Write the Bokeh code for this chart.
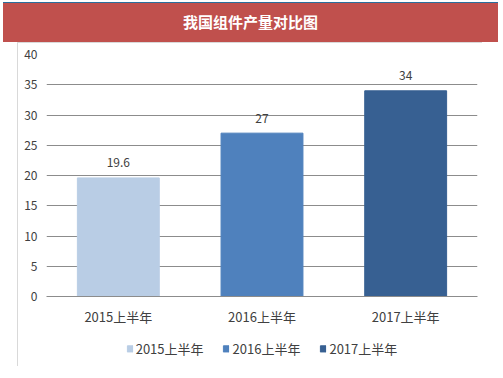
from bokeh.plotting import figure
from bokeh.models import ColumnDataSource, Div, Legend, LegendItem, FactorRange, Range1d
from bokeh.layouts import column
from bokeh.embed import file_html
from bokeh.resources import INLINE
from bokeh.core.properties import value

title_text = "我国组件产量对比图"
categories = ["2015上半年", "2016上半年", "2017上半年"]
values = [19.6, 27, 34]
value_labels = ["19.6", "27", "34"]
colors = ["#b9cde5", "#4f81bd", "#376092"]
y_ticks = [0, 5, 10, 15, 20, 25, 30, 35, 40]

FONT = "Noto Sans CJK SC"

src = ColumnDataSource(dict(cat=categories, val=values, lab=value_labels, color=colors))

title_div = Div(
    text=title_text, width=495, height=40, margin=(2, 5, 0, 3),
    styles={"background-color": "#c0504d", "border-top": "1px solid #2a6f9c",
            "color": "white", "font-weight": "bold", "font-size": "15px",
            "font-family": FONT, "text-align": "center", "line-height": "38px",
            "box-sizing": "border-box"},
)

xr = FactorRange(*categories)

p = figure(
    x_range=xr, y_range=(0, 40),
    width=465, height=288, margin=(0, 0, 0, 17),
    output_backend="svg", toolbar_location=None,
    min_border_left=28, min_border_right=6, min_border_top=11, min_border_bottom=35,
)
p.styles = {"border-left": "1px solid #d9d9d9", "border-top": "1px solid #d9d9d9"}
p.outline_line_color = None
p.background_fill_color = "white"
p.border_fill_color = "white"

p.vbar(x="cat", top="val", width=0.57, color="color", source=src)

p.text(x="cat", y="val", text="lab", source=src, text_align="center",
       text_baseline="middle", y_offset=-15, text_font=value(FONT),
       text_font_size="12px", text_color="#404040")

p.xgrid.grid_line_color = None
p.ygrid.grid_line_color = "#8c8c8c"
p.ygrid.grid_line_width = 1
p.yaxis.ticker = y_ticks
p.yaxis.axis_line_color = None
p.yaxis.major_tick_line_color = None
p.yaxis.minor_tick_line_color = None
p.yaxis.major_label_standoff = 3
p.yaxis.major_label_text_font = FONT
p.yaxis.major_label_text_font_size = "12px"
p.yaxis.major_label_text_color = "#404040"
p.xaxis.axis_line_color = "#8c8c8c"
p.xaxis.major_tick_line_color = None
p.xaxis.minor_tick_line_color = None
p.xaxis.major_label_standoff = 4
p.xaxis.major_label_text_font = FONT
p.xaxis.major_label_text_font_size = "13px"
p.xaxis.major_label_text_color = "#404040"

# legend strip
q = figure(
    x_range=xr, y_range=Range1d(100, 101),
    width=465, height=36, margin=(0, 0, 0, 17),
    output_backend="svg", toolbar_location=None,
    x_axis_location=None, y_axis_location=None,
    min_border_left=0, min_border_right=0, min_border_top=0, min_border_bottom=0,
)
q.styles = {"border-left": "1px solid #d9d9d9"}
q.outline_line_color = None
q.grid.grid_line_color = None
rq = q.vbar(x="cat", top="val", width=0.57, color="color", source=src)

items = [LegendItem(label=categories[i], renderers=[rq], index=i) for i in range(3)]
legend = Legend(items=items, orientation="horizontal", location="center",
                padding=0, margin=0, spacing=19, label_standoff=3,
                glyph_width=7, glyph_height=8, border_line_color=None,
                background_fill_alpha=0, label_text_font=FONT,
                label_text_font_size="13px", label_text_color="#404040")
q.add_layout(legend, "center")

layout = column(title_div, p, q, spacing=0)
open("out.html", "w").write(file_html(layout, INLINE))
